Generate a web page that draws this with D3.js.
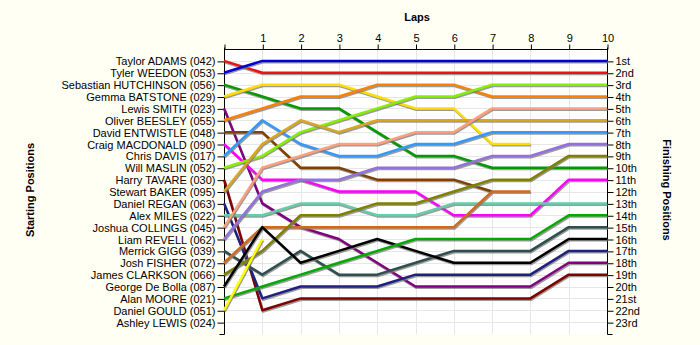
<!DOCTYPE html>
<html>
<head>
<meta charset="utf-8">
<script src="https://cdn.jsdelivr.net/npm/d3@7"></script>
<style>
  html, body { margin: 0; padding: 0; background: #fffff4; }
  svg { display: block; }
  text { font-family: "Liberation Sans", Arial, sans-serif; font-size: 11px; fill: #000; }
</style>
</head>
<body>
<svg id="chart" width="700" height="345"></svg>
<script>
// ---- data ----
const drivers = [
  "Taylor ADAMS (042)", "Tyler WEEDON (053)", "Sebastian HUTCHINSON (056)", "Gemma BATSTONE (029)",
  "Lewis SMITH (023)", "Oliver BEESLEY (055)", "David ENTWISTLE (048)", "Craig MACDONALD (090)",
  "Chris DAVIS (017)", "Will MASLIN (052)", "Harry TAVARE (030)", "Stewart BAKER (095)",
  "Daniel REGAN (063)", "Alex MILES (022)", "Joshua COLLINGS (045)", "Liam REVELL (062)",
  "Merrick GIGG (039)", "Josh FISHER (072)", "James CLARKSON (066)", "George De Bolla (087)",
  "Alan MOORE (021)", "Daniel GOULD (051)", "Ashley LEWIS (024)"
];
const driverColors = [
  "#ee1111", "#0000dd", "#009a00", "#ffdd00",
  "#800080", "#ff8000", "#804000", "#ff00ff",
  "#3399ff", "#88ee00", "#800000", "#daa520",
  "#202080", "#66cdaa", "#ffa07a", "#9370db",
  "#2f4f4f", "#d2691e", "#808000", "#000000",
  "#00aa00", "#ffff00", "#999999"
];
// position of each driver at lap 0..10 (null = not running)
const lapPositions = [
  [1, 2, 2, 2, 2, 2, 2, 2, 2, 2, 2],
  [2, 1, 1, 1, 1, 1, 1, 1, 1, 1, 1],
  [3, 4, 5, 5, 7, 9, 9, 10, 10, 10, 10],
  [4, 3, 3, 3, 4, 5, 5, 8, 8, null, null],
  [5, 13, 15, 16, 18, 20, 20, 20, 20, 18, 18],
  [6, 5, 4, 4, 3, 3, 3, 4, 4, 4, 4],
  [7, 7, 10, 10, 11, 11, 11, 12, null, null, null],
  [8, 11, 11, 12, 12, 12, 14, 14, 14, 11, 11],
  [9, 6, 8, 9, 9, 8, 8, 7, 7, 7, 7],
  [10, 9, 7, 6, 5, 4, 4, 3, 3, 3, 3],
  [11, 22, 21, 21, 21, 21, 21, 21, 21, 19, 19],
  [12, 8, 6, 7, 6, 6, 6, 6, 6, 6, 6],
  [13, 21, 20, 20, 20, 19, 19, 19, 19, 17, 17],
  [14, 14, 13, 13, 14, 14, 13, 13, 13, 13, 13],
  [15, 10, 9, 8, 8, 7, 7, 5, 5, 5, 5],
  [16, 12, 11, 11, 10, 10, 10, 9, 9, 8, 8],
  [17, 19, 17, 19, 19, 18, 17, 17, 17, 15, 15],
  [18, 15, 15, 15, 15, 15, 15, 12, 12, null, null],
  [19, 17, 14, 14, 13, 13, 12, 11, 11, 9, 9],
  [20, 15, 18, 17, 16, 17, 18, 18, 18, 16, 16],
  [21, 20, 19, 18, 17, 16, 16, 16, 16, 14, 14],
  [22, 16, null, null, null, null, null, null, null, null, null],
  [null, null, null, null, null, null, null, null, null, null, null]
];
const lapTicks = [1, 2, 3, 4, 5, 6, 7, 8, 9, 10];
const finishLabels = ["1st","2nd","3rd","4th","5th","6th","7th","8th","9th","10th","11th","12th",
  "13th","14th","15th","16th","17th","18th","19th","20th","21st","22nd","23rd"];

(function () {
  const svg = d3.select("#chart");
  const mL = 224, mR = 607, mT = 49, mB = 334;
  const x = d3.scaleLinear().domain([0, 10]).range([mL, mR]);
  const y = d3.scaleLinear().domain([0, 24]).range([mT, mB]);
  const posList = d3.range(1, 24);

  // plot background
  svg.append("rect").attr("x", mL).attr("y", mT)
    .attr("width", mR - mL).attr("height", mB - mT).attr("fill", "#ffffff");

  // grid
  const grid = svg.append("g").attr("stroke", "#e6e6e6").attr("stroke-width", 1);
  grid.selectAll("line.h").data(posList).join("line").attr("class", "h")
    .attr("x1", mL).attr("x2", mR)
    .attr("y1", d => Math.round(y(d)) + 0.5).attr("y2", d => Math.round(y(d)) + 0.5);
  grid.selectAll("line.v").data(lapTicks).join("line").attr("class", "v")
    .attr("y1", mT).attr("y2", mB)
    .attr("x1", d => Math.round(x(d)) + 0.5).attr("x2", d => Math.round(x(d)) + 0.5);

  // axes
  const topAxis = d3.axisTop(x).tickValues([0].concat(lapTicks)).tickSize(5).tickPadding(3)
    .tickFormat(d => d === 0 ? "" : d);
  const gTop = svg.append("g").attr("transform", `translate(0.5,${mT + 0.5})`).call(topAxis);

  const leftAxis = d3.axisLeft(y).tickValues(posList).tickSize(7).tickPadding(2)
    .tickFormat(d => drivers[d - 1]);
  const gLeft = svg.append("g").attr("transform", `translate(${mL + 0.5},0.5)`).call(leftAxis);

  const rightAxis = d3.axisRight(y).tickValues(posList).tickSize(6).tickPadding(2)
    .tickFormat(d => finishLabels[d - 1]);
  const gRight = svg.append("g").attr("transform", `translate(${mR + 0.5},0.5)`).call(rightAxis);

  [gTop, gLeft, gRight].forEach(g => {
    g.selectAll("text").attr("font-family", "'Liberation Sans', Arial, sans-serif")
      .attr("font-size", 11).attr("fill", "#000");
    g.selectAll("line, path").attr("stroke", "#000");
  });
  gRight.select("path.domain").attr("d", `M0,${mT - 2}V${mB}H5`);
  gLeft.select("path.domain").attr("d", `M0,${mT - 2}V${mB}H-5`);
  gTop.select("path.domain").attr("d", `M${mL},0H${mR}`);

  // lines
  const line = d3.line()
    .defined(d => d.pos != null)
    .x(d => x(d.lap))
    .y(d => y(d.pos));

  const series = lapPositions.map((arr, i) => ({
    name: drivers[i], color: driverColors[i],
    pts: arr.map((p, lap) => ({ lap, pos: p }))
  }));

  const gLines = svg.append("g");
  series.forEach(s => {
    gLines.append("path").attr("d", line(s.pts))
      .attr("fill", "none").attr("stroke", "#7a7a7a").attr("stroke-opacity", 0.75)
      .attr("stroke-width", 2.4).attr("stroke-linejoin", "round")
      .attr("transform", "translate(0.8,1.4)");
    gLines.append("path").attr("d", line(s.pts))
      .attr("fill", "none").attr("stroke", s.color)
      .attr("stroke-width", 2.5).attr("stroke-linejoin", "round");
  });

  // titles
  svg.append("text").attr("x", 417).attr("y", 21).attr("text-anchor", "middle")
    .attr("font-weight", "bold").text("Laps");
  svg.append("text").attr("transform", "translate(34,190) rotate(-90)")
    .attr("text-anchor", "middle").attr("font-weight", "bold").text("Starting Positions");
  svg.append("text").attr("transform", "translate(663,190) rotate(90)")
    .attr("text-anchor", "middle").attr("font-weight", "bold").text("Finishing Positions");
})();
</script>
</body>
</html>
